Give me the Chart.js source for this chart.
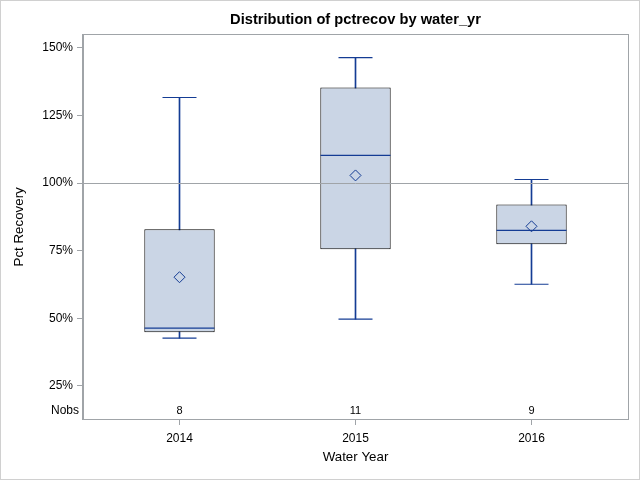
<!DOCTYPE html>
<html>
<head>
<meta charset="utf-8">
<script src="https://cdn.jsdelivr.net/npm/chart.js@4.4.1/dist/chart.umd.min.js"></script>
<style>
html, body { margin: 0; padding: 0; background: #fff; }
</style>
</head>
<body>
<canvas id="chart" width="640" height="480"></canvas>
<script>
// box plot values (percent)
const years = ['2014', '2015', '2016'];
const nobs = [8, 11, 9];
const whiskerLow = [42.7, 49.7, 62.6];
const q1 = [44.9, 75.5, 77.4];
const median = [46.4, 110.2, 82.5];
const q3 = [82.9, 135.3, 92.1];
const whiskerHigh = [131.6, 146.3, 101.3];
const means = [65.2, 102.8, 84.0];
const yTicks = [25, 50, 75, 100, 125, 150];
const refValue = 100;

const navy = '#143c94';
const gray = '#a0a4a8';
const fontName = "'Liberation Sans', Arial, sans-serif";

const pts = arr => arr.map((v, i) => ({ x: i, y: v }));

const extras = {
    id: 'extras',
    afterDatasetsDraw(chart) {
        const { ctx, chartArea, scales } = chart;
        const y = Math.round(scales.y.getPixelForValue(refValue)) + 0.5;
        ctx.save();
        ctx.strokeStyle = gray;
        ctx.lineWidth = 1;
        ctx.beginPath();
        ctx.moveTo(chartArea.left, y);
        ctx.lineTo(chartArea.right, y);
        ctx.stroke();
        ctx.restore();
    },
    afterDraw(chart) {
        const { ctx, chartArea, scales } = chart;
        ctx.save();
        // plot frame
        ctx.strokeStyle = gray;
        ctx.lineWidth = 1;
        ctx.strokeRect(Math.round(chartArea.left) - 0.5, Math.round(chartArea.top) - 0.5,
            Math.round(chartArea.right - chartArea.left) + 1, Math.round(chartArea.bottom - chartArea.top) + 1);
        // outer frame
        ctx.strokeStyle = '#d0d0d0';
        ctx.strokeRect(0.5, 0.5, 639, 479);
        // Nobs row
        ctx.fillStyle = '#000';
        ctx.textBaseline = 'middle';
        ctx.font = '11px ' + fontName;
        ctx.textAlign = 'center';
        const ny = chartArea.bottom - 8;
        nobs.forEach((n, i) => {
            ctx.fillText(String(n), scales.x.getPixelForValue(i), ny);
        });
        ctx.font = '12px ' + fontName;
        ctx.textAlign = 'right';
        ctx.fillText('Nobs', chartArea.left - 4, ny);
        ctx.restore();
    }
};

new Chart(document.getElementById('chart'), {
    type: 'bar',
    data: {
        datasets: [
            {
                type: 'line', label: 'Mean', data: pts(means), order: 0,
                showLine: false, pointStyle: 'rectRot', pointRadius: 5.5,
                pointBorderColor: navy, pointBackgroundColor: 'rgba(0,0,0,0)', pointBorderWidth: 1
            },
            {
                type: 'line', label: 'Median', data: pts(median), order: 1,
                showLine: false, pointStyle: 'line', pointRadius: 35,
                pointBorderColor: navy, pointBorderWidth: 1.2
            },
            {
                type: 'line', label: 'Max', data: pts(whiskerHigh), order: 1,
                showLine: false, pointStyle: 'line', pointRadius: 17,
                pointBorderColor: navy, pointBorderWidth: 1.2
            },
            {
                type: 'line', label: 'Min', data: pts(whiskerLow), order: 1,
                showLine: false, pointStyle: 'line', pointRadius: 17,
                pointBorderColor: navy, pointBorderWidth: 1.2
            },
            {
                label: 'Box', data: q1.map((v, i) => ({ x: i, y: [v, q3[i]] })), order: 2,
                grouped: false, barPercentage: 0.4, categoryPercentage: 1,
                backgroundColor: '#cad5e5', borderColor: '#000', borderWidth: 1, borderSkipped: false
            },
            {
                label: 'Whisker', data: whiskerLow.map((v, i) => ({ x: i, y: [v, whiskerHigh[i]] })), order: 3,
                grouped: false, barThickness: 1,
                backgroundColor: navy, borderWidth: 0
            }
        ]
    },
    options: {
        responsive: false,
        animation: false,
        devicePixelRatio: 1,
        events: [],
        layout: { autoPadding: false, padding: { left: 0, right: 12, top: 0, bottom: 0 } },
        plugins: {
            legend: { display: false },
            tooltip: { enabled: false },
            title: {
                display: true,
                fullSize: false,
                text: 'Distribution of pctrecov by water_yr',
                color: '#000',
                font: { family: fontName, size: 14.67, weight: 'bold' },
                padding: { top: 11.2, bottom: 5.9 }
            }
        },
        scales: {
            x: {
                type: 'linear',
                offset: false,
                min: -0.5483,
                max: 2.5483,
                afterBuildTicks: s => { s.ticks = years.map((_, i) => ({ value: i })); },
                afterFit: s => { s.height = 61; },
                ticks: {
                    callback: v => years[v],
                    color: '#000',
                    font: { family: fontName, size: 12 },
                    padding: 6,
                    maxRotation: 0
                },
                grid: { offset: false, drawOnChartArea: false, drawTicks: true, tickLength: 6, color: gray },
                border: { display: true, color: gray },
                title: {
                    display: true, text: 'Water Year', color: '#000',
                    font: { family: fontName, size: 13.33 },
                    padding: { top: 3, bottom: 14.5 }
                }
            },
            y: {
                min: 12.8,
                max: 154.8,
                afterBuildTicks: s => { s.ticks = yTicks.map(v => ({ value: v })); },
                afterFit: s => { s.width = 83; },
                ticks: {
                    callback: v => v + '%',
                    color: '#000',
                    font: { family: fontName, size: 12 },
                    padding: 4
                },
                grid: { drawOnChartArea: false, drawTicks: true, tickLength: 6, color: gray },
                border: { display: true, color: gray },
                title: {
                    display: true, text: 'Pct Recovery', color: '#000',
                    font: { family: fontName, size: 13.33 },
                    padding: { top: 11, bottom: 4 }
                }
            }
        }
    },
    plugins: [extras]
});
</script>
</body>
</html>
